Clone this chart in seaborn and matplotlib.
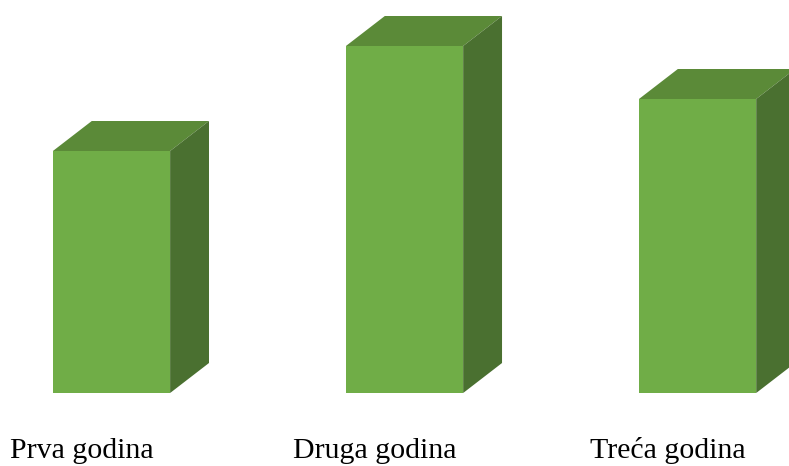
import matplotlib.pyplot as plt
import matplotlib.transforms as mtransforms
from matplotlib.patches import Polygon
import pandas as pd
import seaborn as sns

godine = ['Prva godina', 'Druga godina', 'Treća godina']
vrijednosti = [242, 347, 294]

df = pd.DataFrame({'godina': godine, 'vrijednost': vrijednosti})

front_col = '#70ad47'
top_col = '#5b8a38'
side_col = '#4a7030'

fig = plt.figure(figsize=(7.89, 4.66), dpi=100)
ax = fig.add_axes([0, 73 / 466, 1, 393 / 466])
sns.barplot(data=df, x='godina', y='vrijednost', color=front_col, width=0.4,
            saturation=1, ax=ax, zorder=3)
ax.set_xlim(-0.3805, 2.312)
ax.set_ylim(0, 393)

# depth of the fake 3d box, in points
dx, dy = 28, 21.6
shift = mtransforms.ScaledTranslation(dx / 72, dy / 72, fig.dpi_scale_trans)
off = shift.transform([0, 0]) - fig.dpi_scale_trans.transform([0, 0])
inv = ax.transData.inverted()

for p in ax.patches:
    x0, y0 = p.get_x(), p.get_y()
    x1, y1 = x0 + p.get_width(), y0 + p.get_height()
    p.set_edgecolor('none')
    pts = ax.transData.transform([[x0, y1], [x1, y1], [x1, y0]]) + off
    b0, b1, bb = inv.transform(pts)
    # top face
    top = Polygon([[x0, y1], [x1, y1], b1, b0], closed=True,
                  facecolor=top_col, edgecolor='none', zorder=2, clip_on=False)
    # side face
    side = Polygon([[x1, y0], [x1, y1], b1, bb], closed=True,
                   facecolor=side_col, edgecolor='none', zorder=2, clip_on=False)
    ax.add_patch(top)
    ax.add_patch(side)

ax.set_xticks([])
ax.set_yticks([])
ax.set_xlabel('')
ax.set_ylabel('')
sns.despine(ax=ax, left=True, bottom=True)

for i, g in enumerate(godine):
    ax.text(i - 0.1, -65, g, ha='center', va='baseline', fontsize=21.5,
            family=['Liberation Serif', 'DejaVu Serif'], color='black')

fig.savefig('out.png', dpi=100)
